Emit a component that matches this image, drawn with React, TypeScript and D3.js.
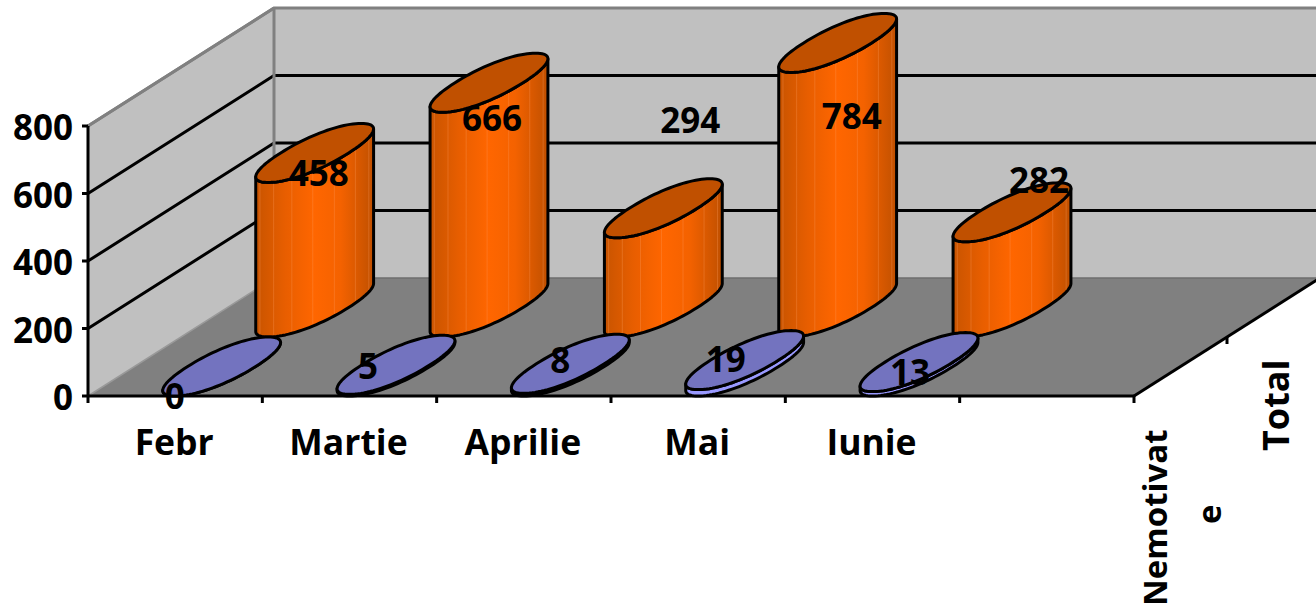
import { useMemo } from "react";
import * as d3 from "d3";

const categories = ["Febr", "Martie", "Aprilie", "Mai", "Iunie", ""];
const seriesNames = ["Nemotivate", "Total"];
const nemotivate = [0, 5, 8, 19, 13];
const total = [458, 666, 294, 784, 282];
const valueTicks = [0, 200, 400, 600, 800];

// hand placed data labels in the original, offset from the top of each cylinder
const nemotivateLabelOffsets = [[-47, 30], [-28, 2], [-10, -3], [-19, -1], [-9, 10]];
const totalLabelOffsets = [[4, 20], [3, 36], [27, -88], [14, 73], [27, -32]];

const FONT = "'Open Sans', sans-serif";
const W = 1316;
const H = 614;

// projection of the 3d box onto the page
const x0 = 88;
const x1 = 1134;
const yFloor = 396;
const y800 = 126;
const depthX = 186;
const depthY = -118;

const band = d3.scaleBand().domain(d3.range(categories.length).map(String)).range([x0, x1]);
const yScale = d3.scaleLinear().domain([0, 800]).range([yFloor, y800]);
const depth = d3.scaleLinear().domain([0, 1]).range([0, 1]);

const project = (x: number, d: number, v: number) => [
  x + depthX * depth(d),
  yScale(v) + depthY * depth(d),
];

const line = d3.line();

// the original's cylinder caps are a bit fuller than a true ellipse
const round = (u: number) => Math.sign(u) * Math.pow(Math.abs(u), 0.93);

type CylProps = {
  index: number;
  value: number;
  series: number;
  bodyFill: string;
  topFill: string;
  facets?: boolean;
};

function Cylinder({ index, value, series, bodyFill, topFill, facets }: CylProps) {
  const bw = band.bandwidth();
  const cx = (band(String(index)) as number) + bw / 2;
  const dMid = (series + 0.5) / seriesNames.length;
  const [px, pBase] = project(cx, dMid, 0);
  const pTop = project(cx, dMid, value)[1];

  const a = bw * 0.195; // half width along the category axis
  const b = (depthX / seriesNames.length) * 0.5;
  const c = (-depthY / seriesNames.length) * 0.5;

  const n = 48;
  const pt = (i: number, y: number): [number, number] => {
    const t = (Math.PI * i) / n;
    return [
      px + a * round(Math.cos(t)) + b * round(Math.sin(t)),
      y - c * round(Math.sin(t)),
    ];
  };
  const steps = d3.range(n * 2);
  // rightmost point of the cap, the silhouette runs from it to the point opposite
  const iMax = d3.greatestIndex(steps, (i) => pt(i, 0)[0]);
  const lower = d3.range(n + 1).map((i) => pt(iMax - i, pBase));
  const upper = d3.range(n + 1).map((i) => pt(iMax - n + i, pTop));
  const cap = steps.map((i) => pt(i, pTop));

  return (
    <g strokeLinejoin="round">
      <path d={line([...lower, ...upper]) + "Z"} fill={bodyFill} stroke="#000" strokeWidth={3} />
      {facets &&
        d3.range(6, 48, 6).map((i) => (
          <line
            key={i}
            x1={pt(iMax - i, pBase)[0]}
            x2={pt(iMax - i, pTop)[0]}
            y1={pt(iMax - i, pBase)[1] - 2}
            y2={pt(iMax - i, pTop)[1]}
            stroke="#ffa060"
            strokeOpacity={0.3}
            strokeWidth={1}
          />
        ))}
      <path d={line(cap) + "Z"} fill={topFill} stroke="#000" strokeWidth={3} />
    </g>
  );
}

export default function App() {
  const yTicks = useMemo(() => valueTicks, []);
  const backTop = project(x0, 1, 800);
  const backBottom = project(x0, 1, 0);
  const floorRight = project(x1, 1, 0);
  const clipRight = W;
  const wallRightY = floorRight[1];

  const floorPath = line([
    [x0, yFloor],
    [x1, yFloor],
    [floorRight[0], floorRight[1]],
    [backBottom[0], backBottom[1]],
  ] as [number, number][]) + "Z";
  const leftWall = line([
    [x0, yFloor],
    [x0, y800],
    [backTop[0], backTop[1]],
    [backBottom[0], backBottom[1]],
  ] as [number, number][]) + "Z";

  const labelStyle = { fontFamily: FONT, fontWeight: 700, fontSize: 35, fill: "#000" };

  return (
    <svg
      width={W}
      height={H}
      viewBox={`0 0 ${W} ${H}`}
      style={{ position: "fixed", left: 0, top: 0, display: "block", background: "#fff" }}
    >
      <defs>
        <linearGradient id="orangeSide" x1="0" x2="1" y1="0" y2="0">
          <stop offset="0" stopColor="#c85400" />
          <stop offset="0.25" stopColor="#e85e00" />
          <stop offset="0.5" stopColor="#ff6600" />
          <stop offset="0.72" stopColor="#f46200" />
          <stop offset="1" stopColor="#c05000" />
        </linearGradient>
      </defs>

      {/* walls and floor */}
      <path d={leftWall} fill="#c0c0c0" stroke="none" />
      <rect
        x={backBottom[0]}
        y={backTop[1]}
        width={clipRight - backBottom[0]}
        height={wallRightY - backTop[1]}
        fill="#c0c0c0"
      />
      <path d={floorPath} fill="#808080" />

      {/* gridlines */}
      {yTicks.slice(1).map((v) => {
        const front = project(x0, 0, v);
        const back = project(x0, 1, v);
        return (
          <path
            key={v}
            d={line([front, back, [clipRight, back[1]]] as [number, number][]) as string}
            fill="none"
            stroke={v === 800 ? "#808080" : "#000"}
            strokeWidth={3}
          />
        );
      })}
      <line x1={x0} y1={y800} x2={backTop[0]} y2={backTop[1]} stroke="#808080" strokeWidth={3} />
      <line x1={backTop[0]} y1={backTop[1]} x2={backBottom[0]} y2={backBottom[1]} stroke="#808080" strokeWidth={3} />
      <line x1={x0} y1={yFloor} x2={backBottom[0]} y2={backBottom[1]} stroke="#999" strokeWidth={1.5} />
      <line x1={backBottom[0]} y1={backBottom[1]} x2={floorRight[0]} y2={floorRight[1]} stroke="#6e6e6e" strokeWidth={1.5} />

      {/* axes */}
      <line x1={x0} y1={y800} x2={x0} y2={yFloor} stroke="#000" strokeWidth={3} />
      <line x1={x0} y1={yFloor} x2={x1} y2={yFloor} stroke="#000" strokeWidth={3} />
      <line x1={x1} y1={yFloor} x2={floorRight[0]} y2={floorRight[1]} stroke="#000" strokeWidth={3} />
      {yTicks.map((v) => (
        <g key={v}>
          <line x1={x0 - 6} x2={x0} y1={yScale(v)} y2={yScale(v)} stroke="#000" strokeWidth={3} />
          <text x={73} y={yScale(v)} dy="0.4em" textAnchor="end" style={labelStyle}>
            {v}
          </text>
        </g>
      ))}
      {d3.range(categories.length + 1).map((i) => {
        const x = x0 + band.step() * i;
        return <line key={i} x1={x} x2={x} y1={yFloor} y2={yFloor + 7} stroke="#000" strokeWidth={3} />;
      })}
      <line
        x1={project(x1, 0.5, 0)[0]}
        x2={project(x1, 0.5, 0)[0]}
        y1={project(x1, 0.5, 0)[1]}
        y2={project(x1, 0.5, 0)[1] + 7}
        stroke="#000"
        strokeWidth={3}
      />

      {/* cylinders, back row first */}
      {total.map((v, i) => (
        <Cylinder key={i} index={i} value={v} series={1} bodyFill="url(#orangeSide)" topFill="#c05000" facets />
      ))}
      {nemotivate.map((v, i) => (
        <Cylinder key={i} index={i} value={v} series={0} bodyFill="#9999ff" topFill="#7373bf" />
      ))}

      {/* category labels */}
      {categories.map((c, i) => (
        <text
          key={i}
          x={(band(String(i)) as number) + band.bandwidth() / 2 - 1}
          y={455}
          textAnchor="middle"
          style={{ ...labelStyle, fontSize: 35.5 }}
        >
          {c}
        </text>
      ))}

      {/* series labels, wrapped and rotated as in the original */}
      <text transform="translate(1167,606) rotate(-90)" style={{ ...labelStyle, fontSize: 33 }}>
        Nemotivat
      </text>
      <text transform="translate(1221,524) rotate(-90)" style={{ ...labelStyle, fontSize: 33 }}>
        e
      </text>
      <text transform="translate(1289,451) rotate(-90)" style={{ ...labelStyle, fontSize: 36 }}>
        {seriesNames[1]}
      </text>

      {/* data labels */}
      {nemotivate.map((v, i) => {
        const bw = band.bandwidth();
        const [px, py] = project((band(String(i)) as number) + bw / 2, 0.25, v);
        const [dx, dy] = nemotivateLabelOffsets[i];
        return (
          <text key={i} x={px + dx} y={py + dy} dy="0.36em" textAnchor="middle" style={labelStyle}>
            {v}
          </text>
        );
      })}
      {total.map((v, i) => {
        const bw = band.bandwidth();
        const [px, py] = project((band(String(i)) as number) + bw / 2, 0.75, v);
        const [dx, dy] = totalLabelOffsets[i];
        return (
          <text key={i} x={px + dx} y={py + dy} dy="0.36em" textAnchor="middle" style={labelStyle}>
            {v}
          </text>
        );
      })}
    </svg>
  );
}
